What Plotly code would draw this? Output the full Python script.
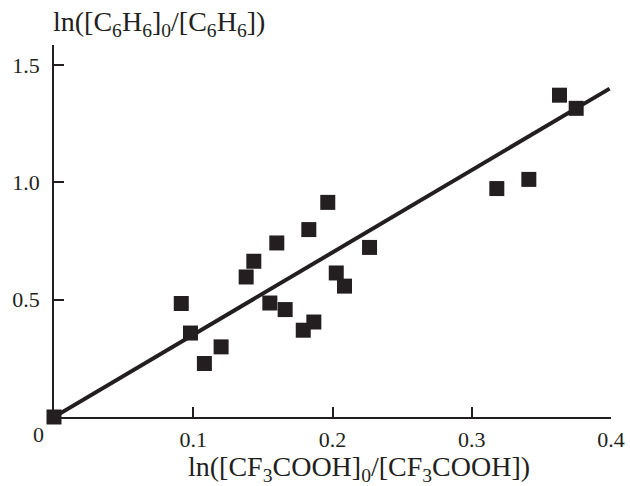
import plotly.graph_objects as go

# data
x_points = [0.0, 0.0914, 0.098, 0.108, 0.120, 0.138, 0.1435, 0.160, 0.155, 0.166,
            0.183, 0.1966, 0.179, 0.1866, 0.2027, 0.2086, 0.2266, 0.318, 0.341, 0.363, 0.375]
y_points = [0.0, 0.484, 0.358, 0.228, 0.299, 0.597, 0.664, 0.742, 0.486, 0.458,
            0.799, 0.915, 0.370, 0.405, 0.614, 0.558, 0.723, 0.974, 1.013, 1.372, 1.316]
fit_x = [0.0, 0.399]
fit_y = [0.0, 1.40]
x_ticks = [0.1, 0.2, 0.3, 0.4]
x_tick_text = ["0.1", "0.2", "0.3", "0.4"]
y_ticks = [0.5, 1.0, 1.5]
y_tick_text = ["0.5", "1.0", "1.5"]

ink = "#231f20"
fam = "Liberation Serif, Times New Roman, serif"
tick_font = dict(family=fam, size=22, color=ink)
title_font = dict(family=fam, size=28, color=ink)

fig = go.Figure()
fig.add_trace(go.Scatter(x=fit_x, y=fit_y, mode="lines",
                         line=dict(color=ink, width=4), cliponaxis=False,
                         showlegend=False, hoverinfo="skip"))
fig.add_trace(go.Scatter(x=x_points, y=y_points, mode="markers",
                         marker=dict(symbol="square", size=15, color=ink),
                         cliponaxis=False, showlegend=False))

fig.update_layout(
    width=630, height=486,
    margin=dict(l=54, r=19, t=45, b=69, autoexpand=False),
    paper_bgcolor="white", plot_bgcolor="white",
    font=tick_font,
    xaxis=dict(range=[0, 0.4], tickvals=x_ticks, ticktext=x_tick_text,
               ticks="inside", ticklen=10, tickwidth=1.5, tickcolor=ink,
               showline=True, linecolor=ink, linewidth=1.5, showgrid=False,
               zeroline=False, tickfont=tick_font, ticklabelstandoff=2,
               automargin=False),
    yaxis=dict(range=[0, 1.586], tickvals=y_ticks, ticktext=y_tick_text,
               ticks="inside", ticklen=10, tickwidth=1.5, tickcolor=ink,
               showline=True, linecolor=ink, linewidth=1.5, showgrid=False,
               zeroline=False, tickfont=tick_font, ticklabelstandoff=8,
               automargin=False),
    annotations=[
        dict(text="0", xref="x", yref="paper", x=0, y=0, xanchor="right",
             yanchor="top", xshift=-8, yshift=-3, showarrow=False, font=tick_font),
        dict(text="ln([C<sub>6</sub>H<sub>6</sub>]<sub>0</sub>/[C<sub>6</sub>H<sub>6</sub>])",
             xref="paper", yref="paper", x=0, y=1, xanchor="left", yanchor="bottom",
             xshift=-3, yshift=2, showarrow=False, font=title_font),
        dict(text="ln([CF<sub>3</sub>COOH]<sub>0</sub>/[CF<sub>3</sub>COOH])",
             xref="paper", yref="paper", x=0.548, y=0, xanchor="center", yanchor="top",
             yshift=-32, showarrow=False, font=title_font),
    ],
)

fig.write_html("out.html", config={"displayModeBar": False},
               post_script="document.body.style.margin='0';")
